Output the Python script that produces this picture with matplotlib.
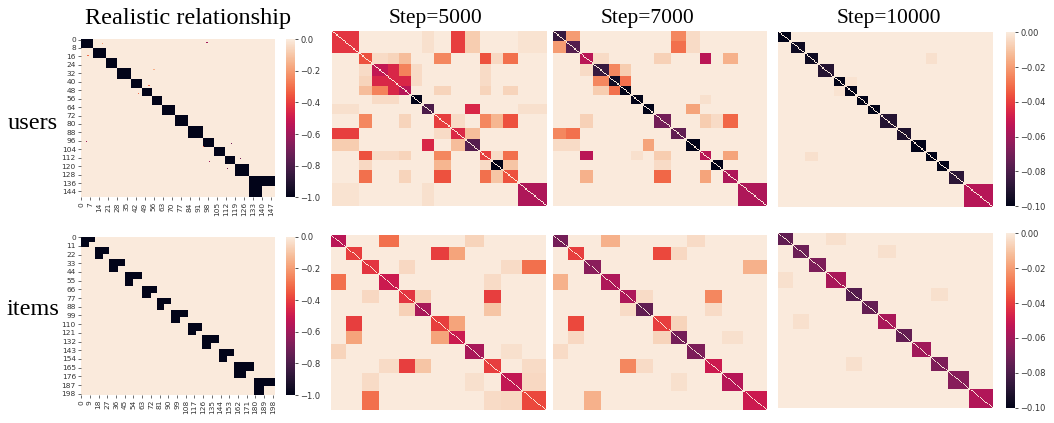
import numpy as np
import matplotlib
matplotlib.use("Agg")
import matplotlib.pyplot as plt
import seaborn as sns

# ---------------- data ----------------
# users: realistic relationship (group sizes, size of "empty" tail quadrant per group)
user_sizes_real = [9, 10, 9, 11, 8, 8, 8, 10, 10, 11, 9, 8, 8, 11, 20]
user_tails_real = [0, 0, 0, 0, 0, 0, 0, 0, 0, 0, 0, 0, 0, 0, 10]
user_dots = [(4, 97, -0.6), (5, 16, -0.2), (16, 5, -0.3), (29, 56, -0.15),
             (44, 52, -0.3), (52, 44, -0.3), (97, 4, -0.6), (99, 116, -0.7),
             (102, 94, -0.35), (113, 123, -0.7), (116, 99, -0.6), (123, 113, -0.7)]
user_yticks_step, user_xticks_step = 8, 7

# items: realistic relationship
item_sizes = [14, 15, 16, 18, 15, 15, 17, 15, 17, 16, 20, 22]
item_tails = [6, 6, 7, 9, 6, 7, 8, 6, 8, 7, 8, 11]
item_yticks_step, item_xticks_step = 11, 9

# learned relationships (block values), users
user_sizes_step = [9, 10, 9, 11, 8, 8, 8, 8, 12, 10, 10, 8, 8, 11, 20]
u5000_diag = [-0.042, -0.042, -0.036, -0.052, -0.046, -0.055, -0.100, -0.080,
              -0.040, -0.045, -0.078, -0.040, -0.100, -0.036, -0.057]
u5000_pairs = [(0, 1, -0.042), (0, 9, -0.040), (1, 9, -0.040), (0, 10, -0.008),
               (1, 10, -0.008), (2, 3, -0.004), (2, 4, -0.006), (2, 5, -0.012),
               (2, 8, -0.025), (2, 11, -0.036), (2, 12, -0.005), (2, 13, -0.030),
               (3, 4, -0.046), (3, 5, -0.026), (4, 5, -0.046), (3, 6, -0.004),
               (4, 6, -0.004), (5, 8, -0.006), (7, 10, -0.046), (8, 11, -0.025),
               (8, 12, -0.014), (8, 13, -0.036), (9, 10, -0.012), (11, 13, -0.030),
               (12, 13, -0.010), (0, 7, -0.003), (1, 7, -0.003), (8, 9, -0.004),
               (3, 11, -0.004), (4, 11, -0.004), (5, 11, -0.006), (5, 13, -0.006),
               (11, 12, -0.004), (0, 14, -0.002), (1, 14, -0.002), (7, 14, -0.003)]
u7000_diag = [-0.085, -0.078, -0.054, -0.085, -0.095, -0.100, -0.100, -0.100,
              -0.070, -0.075, -0.100, -0.054, -0.100, -0.057, -0.057]
u7000_pairs = [(0, 1, -0.020), (0, 9, -0.025), (1, 9, -0.030), (0, 10, -0.004),
               (1, 10, -0.004), (2, 3, -0.004), (2, 8, -0.007), (2, 11, -0.054),
               (2, 13, -0.015), (3, 4, -0.025), (3, 5, -0.008), (4, 5, -0.030),
               (7, 10, -0.018), (8, 11, -0.008), (8, 12, -0.004), (8, 13, -0.032),
               (11, 13, -0.018), (6, 11, -0.003)]
u10000_diag = [-0.100, -0.096, -0.096, -0.090, -0.100, -0.100, -0.100, -0.100,
               -0.090, -0.092, -0.100, -0.100, -0.100, -0.088, -0.055]
u10000_pairs = [(2, 11, -0.003), (4, 5, -0.002)]

# learned relationships (block values), items
i5000_diag = [-0.054, -0.040, -0.042, -0.050, -0.042, -0.058, -0.040, -0.050,
              -0.058, -0.040, -0.052, -0.038]
i5000_pairs = [(0, 3, -0.030), (0, 8, -0.006), (1, 6, -0.040), (1, 7, -0.018),
               (2, 4, -0.005), (2, 11, -0.030), (2, 10, -0.004), (4, 9, -0.040),
               (4, 5, -0.007), (5, 9, -0.010), (6, 7, -0.018), (3, 9, -0.004),
               (8, 10, -0.003), (9, 11, -0.004), (10, 11, -0.005)]
i7000_diag = [-0.070, -0.040, -0.065, -0.057, -0.057, -0.075, -0.040, -0.070,
              -0.068, -0.050, -0.055, -0.050]
i7000_pairs = [(0, 3, -0.015), (0, 8, -0.004), (1, 6, -0.038), (1, 7, -0.005),
               (2, 11, -0.015), (4, 9, -0.025), (4, 5, -0.004), (5, 9, -0.004),
               (6, 7, -0.006), (7, 10, -0.003)]
i10000_diag = [-0.075, -0.072, -0.068, -0.058, -0.078, -0.074, -0.058, -0.074,
               -0.060, -0.068, -0.066, -0.056]
i10000_pairs = [(0, 3, -0.003), (1, 6, -0.003), (4, 9, -0.003)]

titles = ["Realistic relationship", "Step=5000", "Step=7000", "Step=10000"]
row_labels = ["users", "items"]

# ---------------- helpers ----------------
def block_matrix(sizes, diag, pairs):
    k = len(sizes)
    B = np.zeros((k, k))
    B[np.arange(k), np.arange(k)] = diag
    for i, j, v in pairs:
        B[i, j] = v
        B[j, i] = v
    M = np.repeat(np.repeat(B, sizes, axis=0), sizes, axis=1)
    np.fill_diagonal(M, 0.0)
    return M


def real_matrix(sizes, tails, dots=()):
    n = sum(sizes)
    M = np.zeros((n, n))
    s = 0
    for size, tail in zip(sizes, tails):
        M[s:s + size, s:s + size] = -1.0
        if tail:
            M[s + size - tail:s + size, s + size - tail:s + size] = 0.0
        s += size
    for r, c, v in dots:
        M[r, c] = v
    return M


W, H = 1054, 423
fig = plt.figure(figsize=(W / 100, H / 100), dpi=100)
cmap = sns.color_palette("rocket", as_cmap=True)
serif = "Liberation Serif"
tick_color = "#333333"


def rect(x0, y0, x1, y1):
    return [x0 / W, 1 - y1 / H, (x1 - x0) / W, (y1 - y0) / H]


def draw_real(box, cbox, M, ystep, xstep):
    ax = fig.add_axes(rect(*box))
    im = ax.imshow(M, cmap=cmap, vmin=-1, vmax=0, aspect="auto",
                   interpolation="nearest")
    n = M.shape[0]
    ax.set_yticks(np.arange(0, n, ystep))
    ax.set_yticklabels([str(v) for v in range(0, n, ystep)])
    ax.set_xticks(np.arange(0, n, xstep))
    ax.set_xticklabels([str(v) for v in range(0, n, xstep)], rotation=90)
    ax.tick_params(labelsize=5.3, length=2, width=0.5, pad=1.5,
                   colors=tick_color)
    for sp in ax.spines.values():
        sp.set_visible(False)
    cax = fig.add_axes(rect(*cbox))
    cb = fig.colorbar(im, cax=cax, ticks=[0, -0.2, -0.4, -0.6, -0.8, -1.0])
    cb.outline.set_visible(False)
    cb.ax.tick_params(labelsize=6, length=2.5, width=0.6, pad=1.5,
                      colors=tick_color)
    return im


def draw_step(box, M):
    ax = fig.add_axes(rect(*box))
    im = ax.imshow(M, cmap=cmap, vmin=-0.1, vmax=0, aspect="auto",
                   interpolation="nearest")
    ax.set_xticks([])
    ax.set_yticks([])
    for sp in ax.spines.values():
        sp.set_visible(False)
    return im


def step_cbar(cbox, im):
    cax = fig.add_axes(rect(*cbox))
    cb = fig.colorbar(im, cax=cax, ticks=[0, -0.02, -0.04, -0.06, -0.08, -0.10])
    cb.outline.set_visible(False)
    cb.ax.tick_params(labelsize=6, length=2.5, width=0.6, pad=1.5,
                      colors=tick_color)


# ---------------- users row ----------------
draw_real((80.7, 39, 274.3, 197.3), (286, 39.3, 295, 197.3),
          real_matrix(user_sizes_real, user_tails_real, user_dots),
          user_yticks_step, user_xticks_step)
draw_step((331.7, 31, 545.7, 205.7),
          block_matrix(user_sizes_step, u5000_diag, u5000_pairs))
draw_step((552.7, 31, 766.7, 205.7),
          block_matrix(user_sizes_step, u7000_diag, u7000_pairs))
im = draw_step((777.7, 31.7, 992.3, 206.7),
               block_matrix(user_sizes_step, u10000_diag, u10000_pairs))
step_cbar((1006, 32.3, 1015, 206), im)

# ---------------- items row ----------------
draw_real((80.7, 236.7, 274.3, 395), (286, 236.7, 295, 395),
          real_matrix(item_sizes, item_tails),
          item_yticks_step, item_xticks_step)
draw_step((331, 235, 545.7, 410),
          block_matrix(item_sizes, i5000_diag, i5000_pairs))
draw_step((552.7, 235, 766.7, 410),
          block_matrix(item_sizes, i7000_diag, i7000_pairs))
im = draw_step((777.7, 233.3, 992.3, 407.7),
               block_matrix(item_sizes, i10000_diag, i10000_pairs))
step_cbar((1006, 233.3, 1015, 407.7), im)

# ---------------- text ----------------
fig.text(188 / W, 1 - 24 / H, titles[0], ha="center", va="baseline",
         fontsize=17.5, family=serif)
for x, t in zip([435, 647, 889], titles[1:]):
    fig.text(x / W, 1 - 22.5 / H, t, ha="center", va="baseline",
             fontsize=15.5, family=serif)
fig.text(8 / W, 1 - 129 / H, row_labels[0], ha="left", va="baseline",
         fontsize=17.5, family=serif)
fig.text(7 / W, 1 - 315 / H, row_labels[1], ha="left", va="baseline",
         fontsize=17.5, family=serif)

fig.savefig("out.png", dpi=100)
